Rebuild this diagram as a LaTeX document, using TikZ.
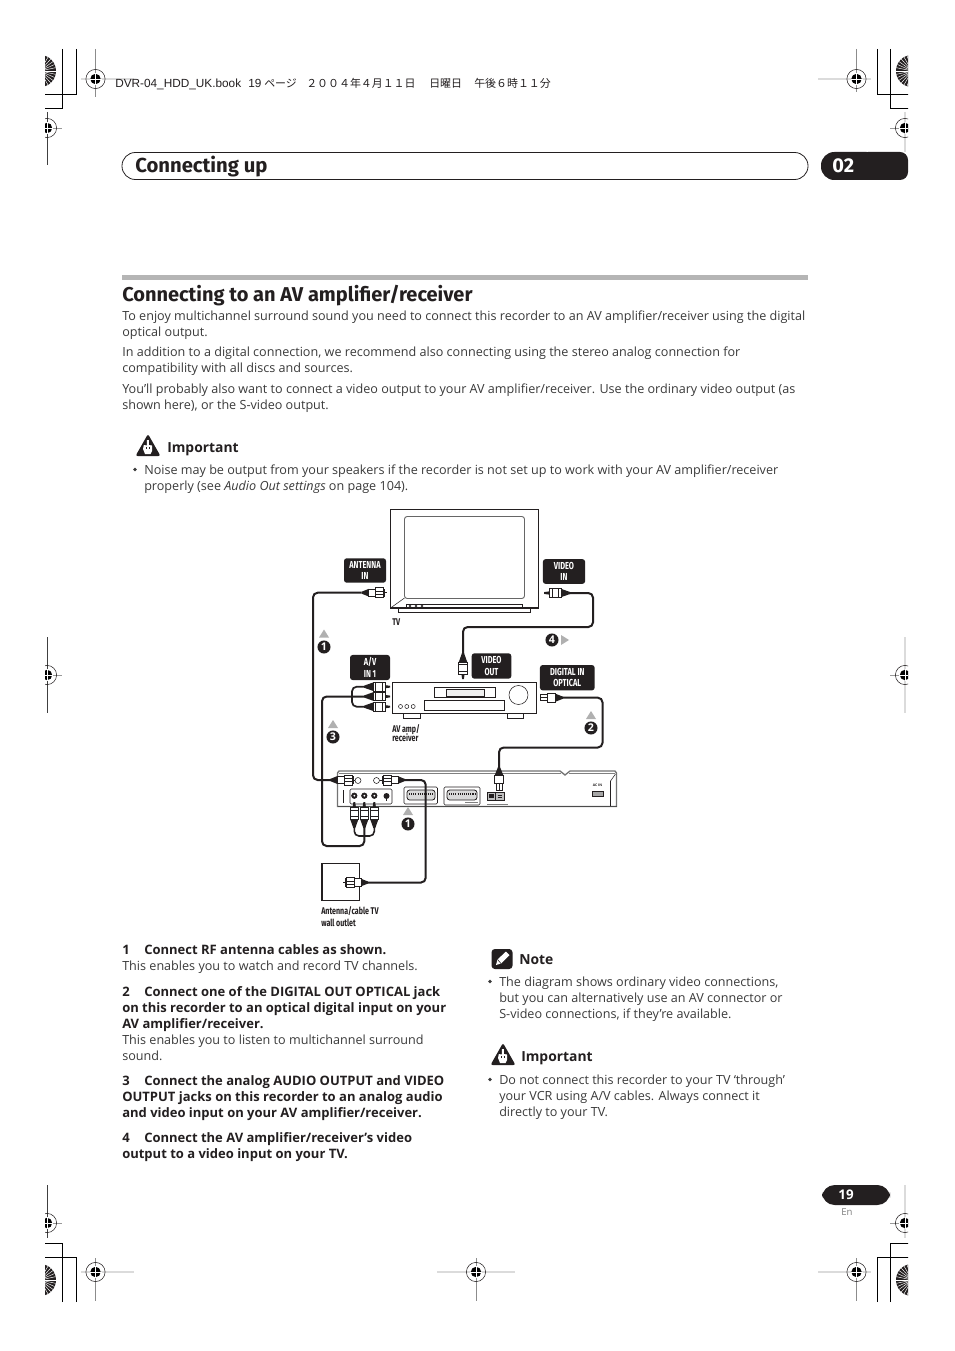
\documentclass[tikz,border=0pt]{standalone}
\usepackage{fontspec}
\setmainfont{Open Sans}
\newfontfamily\headfont{Fira Sans}
\newfontfamily\condfont[FakeStretch=0.73]{Fira Sans}
\newfontfamily\cjkfont{Noto Sans CJK JP}
\newfontfamily\hdrfont{Liberation Sans}
\definecolor{ink}{HTML}{231F20}
\definecolor{bodyc}{HTML}{3A3A3A}
\definecolor{barc}{HTML}{B5B5B5}
\definecolor{arrowc}{HTML}{B0B0B0}
\tikzset{
 bd/.style={anchor=base west,inner sep=0pt,text=bodyc,font=\fontsize{9.45}{11}\selectfont},
 bdb/.style={anchor=base west,inner sep=0pt,text=ink,font=\fontsize{9.75}{11}\selectfont\bfseries},
 hdg/.style={anchor=base west,inner sep=0pt,text=ink,font=\fontsize{10.4}{12}\selectfont\bfseries},
 tagbox/.style={fill=ink,rounded corners=2pt,text=white,align=center,inner sep=0pt,
   font=\fontsize{7.6}{8.6}\selectfont\condfont\bfseries},
 dcap/.style={anchor=base west,inner sep=0pt,align=left,text=ink,font=\fontsize{7.3}{9}\selectfont\condfont\bfseries},
 cable/.style={draw=ink,line width=1.5pt,rounded corners=3.5pt},
 dev/.style={draw=ink,line width=0.55pt,fill=white},
 thinln/.style={draw=ink,line width=0.4pt},
 numc/.style={circle,fill=ink,text=white,inner sep=0pt,minimum size=9.8pt,font=\fontsize{8}{9}\selectfont\bfseries},
 rcaplug/.pic={
   \fill[ink] (0,-0.9) -- (5,-1.6) -- (5,1.6) -- (0,0.9) -- cycle;
   \draw[dev] (5,-4.2) rectangle (17,4.2);
   \draw[thinln] (8,-4.2) -- (8,4.2) (14.5,-4.2) -- (14.5,4.2);
   \fill[ink] (17,-4.2) -- (17,4.2) -- (26,1) -- (26,-1) -- cycle;
 },
 fplug/.pic={
   \draw[thinln] (0,0) -- (4,0);
   \draw[thinln] (2,-4.2) -- (2,4.2);
   \draw[dev] (3,-5) rectangle (11,5);
   \draw[thinln] (3,-1.7) -- (11,-1.7) (3,1.7) -- (11,1.7);
   \draw[dev] (11,-3.8) rectangle (18,3.8);
   \fill[ink] (18,-3.8) -- (18,3.8) -- (25,1) -- (25,-1) -- cycle;
 },
 optplug/.pic={
   \draw[thinln,fill=white] (0,-3) rectangle (7,3);
   \draw[thinln] (0,0) -- (7,0);
   \draw[dev] (7,-4.2) rectangle (15,4.2);
   \fill[ink] (15,-4.2) -- (15,4.2) -- (23,1) -- (23,-1) -- cycle;
 },
 warnicon/.pic={
   \fill[ink,rounded corners=1.6pt] (0,-12) -- (12.5,10) -- (-12.5,10) -- cycle;
   \fill[white] (-1.2,-6) -- (0.8,-6) -- (0.8,-1) -- (4,-0.5) -- (4,5) -- (2.5,8) -- (-3,8) -- (-5,3) -- (-4.2,-1) -- (-1.2,-0.5) -- cycle;
   \draw[ink,line width=0.3pt] (-1.5,1) -- (-1.5,3) (1,1) -- (1,3);
 },
}
\newcommand{\regmark}[8]{%
 \draw[#7] (#1,#3) -- (#1,#4);
 \draw[#8] (#5,#2) -- (#6,#2);
 \draw[draw=ink,line width=0.4pt] (#1,#2) circle (9.6);
 \fill[black] (#1,#2) circle (5.2);
 \draw[white,line width=0.6pt] (#1-6,#2) -- (#1+6,#2) (#1,#2-6) -- (#1,#2+6);
}
\newcommand{\sunb}[2]{%
 \fill[ink] (#1,#2) circle (16);
 \foreach \a in {0,12,...,348}{\draw[white,line width=0.35pt] (#1,#2) ++(\a:4) -- ++(\a:12);}
}
\begin{document}
\begin{tikzpicture}[x=0.75pt,y=-0.75pt]
\useasboundingbox (0,0) rectangle (954,1351);
\fill[white] (0,0) rectangle (954,1351);
\tikzset{vg/.style={draw=black!45,line width=0.6pt},hg/.style={draw=black!14,line width=1.3pt},
 vd/.style={draw=black!75,line width=0.5pt}, hd/.style={draw=black!40,line width=0.5pt}}
\begin{scope}
\clip (45,0) rectangle (908,1351);
% crop marks
\draw[black,line width=0.6pt] (62.5,49) -- (62.5,108) -- (40,108);
\draw[black,line width=0.6pt] (76,49) -- (76,94) -- (40,94);
\draw[black,line width=0.6pt] (877,49) -- (877,94) -- (915,94);
\draw[black,line width=0.6pt] (890.5,49) -- (890.5,108) -- (915,108);
\draw[black,line width=0.6pt] (62.5,1302) -- (62.5,1243) -- (40,1243);
\draw[black,line width=0.6pt] (76,1302) -- (76,1257) -- (40,1257);
\draw[black,line width=0.6pt] (877,1302) -- (877,1257) -- (915,1257);
\draw[black,line width=0.6pt] (890.5,1302) -- (890.5,1243) -- (915,1243);
\sunb{40}{71}\sunb{912}{71}\sunb{40}{1280}\sunb{912}{1280}
% registration marks
\regmark{95.5}{79}{49}{97}{81}{134}{vg}{hg}
\regmark{856.5}{79}{49}{92}{818}{871}{vg}{hg}
\regmark{95.5}{1272}{1258}{1301}{81}{134}{vg}{hg}
\regmark{476}{1272}{1258}{1301}{437}{515}{vg}{hg}
\regmark{856.5}{1272}{1258}{1301}{818}{871}{vg}{hg}
\regmark{47}{128}{112}{165}{40}{62}{vd}{hd}
\regmark{47}{675}{637}{713}{40}{62}{vd}{hd}
\regmark{47}{1223}{1185}{1238}{40}{62}{vd}{hd}
\regmark{905}{128}{112}{152}{890}{915}{hg}{hd}
\regmark{905}{675}{637}{713}{890}{915}{hg}{hd}
\regmark{905}{1223}{1185}{1238}{890}{915}{hg}{hd}
% chapter pill
\fill[ink,rounded corners=6pt] (860,152) rectangle (908,180);
\fill[ink,rounded corners=10pt] (821,152) rectangle (880,180);
\end{scope}
% header line
\node[anchor=base west,inner sep=0pt,font=\fontsize{8.85}{10}\selectfont\hdrfont,text=ink] (hdrA) at (115,88) {DVR-04\_HDD\_UK.book};
\node[anchor=base west,inner sep=0pt,font=\fontsize{8.85}{10}\selectfont\hdrfont,text=ink] (hdrB) at (248,88) {19};
\node[anchor=base west,inner sep=0pt,font=\fontsize{8.2}{10}\selectfont\cjkfont,text=ink] (hdrC) at (264,88) {ページ};
\node[anchor=base west,inner sep=0pt,font=\fontsize{8.2}{10}\selectfont\cjkfont,text=ink] (hdrD) at (306,88) {２００４年４月１１日};
\node[anchor=base west,inner sep=0pt,font=\fontsize{8.2}{10}\selectfont\cjkfont,text=ink] (hdrE) at (429,88) {日曜日};
\node[anchor=base west,inner sep=0pt,font=\fontsize{8.2}{10}\selectfont\cjkfont,text=ink] (hdrF) at (474,88) {午後６時１１分};
% chapter header
\draw[draw=ink,line width=0.6pt,rounded corners=10pt,fill=white] (122,152.5) rectangle (808,179.5);
\node[anchor=base west,inner sep=0pt,text=ink,font=\fontsize{15.2}{18}\selectfont\headfont\bfseries] (chap) at (135,172.5) {Connecting up};
\node[anchor=base west,inner sep=0pt,text=white,font=\fontsize{15}{18}\selectfont\headfont\bfseries] (chapn) at (832,172.5) {02};
% section
\fill[barc] (122,275) rectangle (808,280);
\node[anchor=base west,inner sep=0pt,text=ink,font=\fontsize{15}{18}\selectfont\headfont\bfseries] (sect) at (122,301.5) {Connecting to an AV amplifier/receiver};
\node[bd] (p1) at (122,320.5) {To enjoy multichannel surround sound you need to connect this recorder to an AV amplifier/receiver using the digital};
\node[bd] (p2) at (122,336.5) {optical output.};
\node[bd] (p3) at (122,356.5) {In addition to a digital connection, we recommend also connecting using the stereo analog connection for};
\node[bd] (p4) at (122,372.5) {compatibility with all discs and sources.};
\node[bd] (p5) at (122,393) {You’ll probably also want to connect a video output to your AV amplifier/receiver. Use the ordinary video output (as};
\node[bd] (p6) at (122,409) {shown here), or the S-video output.};
\pic at (148,446) {warnicon};
\node[hdg] (imp1) at (167,452) {Important};
\fill[bodyc] (135,469.5) circle (1.9);
\node[bd] (b1a) at (144,474) {Noise may be output from your speakers if the recorder is not set up to work with your AV amplifier/receiver};
\node[bd] (b1b) at (144,490) {properly (see \textit{Audio Out settings} on page 104).};
% steps
\node[bdb] (s1n) at (122,954) {1};
\node[bdb] (s1) at (144,954) {Connect RF antenna cables as shown.};
\node[bd] (s1a) at (122,970) {This enables you to watch and record TV channels.};
\node[bdb] (s2n) at (122,996) {2};
\node[bdb] (s2) at (144,996) {Connect one of the DIGITAL OUT OPTICAL jack};
\node[bdb] (s2b) at (122,1012) {on this recorder to an optical digital input on your};
\node[bdb] (s2c) at (122,1028) {AV amplifier/receiver.};
\node[bd] (s2d) at (122,1044) {This enables you to listen to multichannel surround};
\node[bd] (s2e) at (122,1060) {sound.};
\node[bdb] (s3n) at (122,1085) {3};
\node[bdb] (s3) at (144,1085) {Connect the analog AUDIO OUTPUT and VIDEO};
\node[bdb] (s3b) at (122,1101) {OUTPUT jacks on this recorder to an analog audio};
\node[bdb] (s3c) at (122,1117) {and video input on your AV amplifier/receiver.};
\node[bdb] (s4n) at (122,1142) {4};
\node[bdb] (s4) at (144,1142) {Connect the AV amplifier/receiver’s video};
\node[bdb] (s4b) at (122,1158) {output to a video input on your TV.};
% note
\fill[ink,rounded corners=2.5pt] (491.5,949) rectangle (512.5,969);
\fill[white] (496,965) -- (497.5,959.5) -- (506,951.5) -- (509.5,955) -- (501,963.5) -- cycle;
\draw[ink,line width=0.4pt] (497.5,959.5) -- (501,963.5);
\node[hdg] (note) at (519,964) {Note};
\fill[bodyc] (490,981.5) circle (1.9);
\node[bd] (b2a) at (499,986) {The diagram shows ordinary video connections,};
\node[bd] (b2b) at (499,1002) {but you can alternatively use an AV connector or};
\node[bd] (b2c) at (499,1018) {S-video connections, if they’re available.};
\pic at (503,1055) {warnicon};
\node[hdg] (imp2) at (521,1061) {Important};
\fill[bodyc] (490,1079.5) circle (1.9);
\node[bd] (b3a) at (499,1084) {Do not connect this recorder to your TV ‘through’};
\node[bd] (b3b) at (499,1100) {your VCR using A/V cables. Always connect it};
\node[bd] (b3c) at (499,1116) {directly to your TV.};
% page number
\fill[ink,rounded corners=9.5pt] (822,1185) rectangle (890,1205);
\node[inner sep=0pt,text=white,font=\fontsize{10}{12}\selectfont\bfseries] (pg) at (846,1195) {19};
\node[inner sep=0pt,text=black!50,font=\fontsize{7.2}{9}\selectfont] (en) at (847,1212) {En};
% ---------- diagram: TV
\draw[draw=ink,line width=0.8pt,fill=white] (390.5,509.5) rectangle (538.5,608);
\draw[draw=black!60,line width=0.7pt,rounded corners=2pt] (404.5,516.5) rectangle (524.5,598.5);
\draw[thinln] (404.5,598) -- (390.5,608);
\draw[thinln] (406,604) rectangle (522.5,608);
\foreach \x in {410,416,422}{\draw[thinln] (\x,606) circle (1.1);}
\draw[draw=ink,line width=0.9pt] (398.5,608) -- (398.5,612.5) -- (530.5,612.5) -- (530.5,608);
\node[dcap] (tvl) at (392,625) {TV};
% AV amp
\draw[dev,line width=0.7pt] (403,713) rectangle (420,718);
\draw[dev,line width=0.7pt] (507,713) rectangle (523,718);
\draw[dev,line width=0.7pt] (392.5,682) rectangle (536.5,713);
\draw[thinln] (434.5,687.5) rectangle (495,697.5);
\draw[thinln,fill=black!6] (446,689) rectangle (484,696);
\draw[thinln] (424,700.5) rectangle (504.5,710.5);
\draw[thinln] (518.5,695) circle (9.5);
\foreach \x in {400.5,406.8,413.2}{\draw[thinln] (\x,706.5) circle (2);}
\node[dcap] (amp1) at (392,732) {AV amp/};
\node[dcap] (amp2) at (392,741) {receiver};
% Recorder
\draw[draw=black!55,line width=1pt,fill=white] (337.5,806.5) -- (337.5,773) -- (339,771) -- (560,771) -- (565,775) -- (570,771) -- (615,771) -- (616.5,773) -- (616.5,806.5) -- cycle;
\draw[draw=black!70,line width=0.9pt] (337.5,806.5) -- (616.5,806.5);
\draw[draw=black!50,line width=0.4pt] (339,773) -- (561,773) (569,773) -- (615,773);
\draw[thinln] (343,790) -- (343,803);
\draw[thinln] (615.5,774) -- (610.5,781) -- (610.5,806);
\draw[thinln,rounded corners=1pt] (350,789) rectangle (392,804);
\foreach \x in {354.3,364.3,374.3}{\draw[thinln,fill=ink] (\x,795.7) circle (2.8); \fill[white] (\x,795.7) circle (1);}
\fill[ink] (386.5,796) circle (3);
\draw[ink,line width=0.8pt] (386.5,796) -- (386.5,801);
\draw[thinln] (358,780.5) circle (3);
\draw[thinln] (376.5,780.5) circle (3);
\draw[thinln,rounded corners=1pt] (404,787) rectangle (437.5,804);
\draw[draw=ink,line width=0.6pt,rounded corners=2pt,fill=black!15] (407,790) rectangle (435,800);
\draw[ink,line width=0.9pt,dash pattern=on 0.8pt off 0.8pt] (409,794) -- (433,794);
\draw[thinln,rounded corners=1pt] (444,787) rectangle (480,805);
\draw[draw=ink,line width=0.6pt,rounded corners=2pt,fill=black!15] (447,790) rectangle (477,800);
\draw[ink,line width=0.9pt,dash pattern=on 0.8pt off 0.8pt] (449,794) -- (475,794);
\draw[draw=black!50,line width=0.3pt] (465,802.5) -- (478,802.5) (487,804.5) -- (508,804.5);
\draw[draw=ink,line width=0.7pt,fill=black!25] (487,792) rectangle (495.5,800);
\fill[ink] (489,794) rectangle (493.5,798);
\draw[draw=ink,line width=0.7pt,fill=black!25] (495.5,792) rectangle (504,800);
\draw[ink,line width=0.5pt] (497.5,795) -- (502,795) (497.5,797.5) -- (502,797.5);
\draw[draw=ink,line width=0.6pt,fill=black!35] (592,791) rectangle (603,796);
\node[inner sep=0pt,text=ink,font=\fontsize{2.6}{3}\selectfont\bfseries] (acin) at (597.5,785) {AC IN};
% wall outlet
\draw[draw=ink,line width=0.8pt,fill=white] (322,863.5) rectangle (359.5,900.5);
\node[dcap] (wall1) at (321,914) {Antenna/cable TV};
\node[dcap] (wall2) at (321,926) {wall outlet};
% tags
\node[tagbox,minimum width=31.5pt,minimum height=18.3pt] (tagAnt) at (365,570.5) {ANTENNA\\IN};
\node[tagbox,minimum width=31.7pt,minimum height=18.5pt] (tagVin) at (564,571.5) {VIDEO\\IN};
\node[tagbox,minimum width=29.7pt,minimum height=19pt] (tagVout) at (491.5,666) {VIDEO\\OUT};
\node[tagbox,minimum width=30pt,minimum height=18.8pt] (tagAV) at (370,667.5) {A/V\\IN 1};
\node[tagbox,minimum width=41pt,minimum height=19pt] (tagDig) at (567.3,677.7) {DIGITAL IN\\OPTICAL};
% cable anchors
\coordinate (tvAnt) at (361.7,592.7);
\coordinate (recAnt) at (330,780);
\coordinate (railA) at (313,592.7);
\coordinate (railB) at (313,780);
\coordinate (tvVid) at (569,593);
\coordinate (ampVid) at (463,654);
\coordinate (vA) at (593,593);
\coordinate (vB) at (593,627);
\coordinate (vC) at (463,627);
\coordinate (ampTop) at (364,686.7);
\coordinate (ampMid) at (364,696.5);
\coordinate (ampBot) at (364,706.7);
\coordinate (joinL) at (352,696.5);
\coordinate (recL) at (354.3,827);
\coordinate (recM) at (364.3,827);
\coordinate (recR) at (374.3,827);
\coordinate (midA) at (322,696.5);
\coordinate (midB) at (322,846);
\coordinate (midC) at (364.3,846);
\coordinate (midD) at (364.3,836);
\coordinate (ampOpt) at (561,697.7);
\coordinate (recOpt) at (499,767);
\coordinate (oA) at (602.5,697.7);
\coordinate (oB) at (602.5,747.5);
\coordinate (oC) at (499,747.5);
\coordinate (recAnt2) at (405,780);
\coordinate (wallP) at (365,882.5);
\coordinate (aA) at (425.7,780);
\coordinate (aB) at (425.7,882.5);
% cables
\draw[cable] (tvAnt) -- (railA) -- (railB) -- (recAnt);
\draw[cable] (tvVid) -- (vA) -- (vB) -- (vC) -- (ampVid);
\draw[cable,line width=1.3pt] (ampTop) -- (joinL |- ampTop) -- (joinL |- ampBot) -- (ampBot);
\draw[cable] (ampMid) -- (midA) -- (midB) -- (midC) -- (recM);
\draw[cable,line width=1.2pt] (recL) -- (recL |- midD) -- (recR |- midD) -- (recR);
\draw[cable] (ampOpt) -- (oA) -- (oB) -- (oC) -- (recOpt);
\draw[cable] (recAnt2) -- (aA) -- (aB) -- (wallP);
% plugs (tip first, cable end at local x=25)
\pic at (386.7,592.7) [rotate=180] {fplug};
\pic at (544,593) {rcaplug};
\pic at (463,679) [rotate=90] {rcaplug};
\pic at (390,686.7) [rotate=180] {rcaplug};
\pic at (390,696.5) [rotate=180] {rcaplug};
\pic at (390,706.7) [rotate=180] {rcaplug};
\pic at (540,697.7) {optplug};
\pic at (355,780) [rotate=180] {fplug};
\pic at (380,780) {fplug};
\pic at (354.3,802) [rotate=-90] {rcaplug};
\pic at (364.3,802) [rotate=-90] {rcaplug};
\pic at (374.3,802) [rotate=-90] {rcaplug};
\pic at (499,790) [rotate=90] {optplug};
\pic at (343,882.5) {fplug};
% step markers
\tikzset{tri/.style={fill=arrowc}}
\fill[tri] (324,629.5) -- (329,637.5) -- (319,637.5) -- cycle;
\node[numc] (n1a) at (324,647) {1};
\fill[tri] (333,720) -- (338,728) -- (328,728) -- cycle;
\node[numc] (n3) at (333,737) {3};
\fill[tri] (591,711) -- (596,719) -- (586,719) -- cycle;
\node[numc] (n2) at (591,728) {2};
\node[numc] (n4) at (552,640) {4};
\fill[tri] (569,640) -- (561,635) -- (561,645) -- cycle;
\fill[tri] (408,807) -- (413,815) -- (403,815) -- cycle;
\node[numc] (n1b) at (408,824) {1};
\end{tikzpicture}
\end{document}
